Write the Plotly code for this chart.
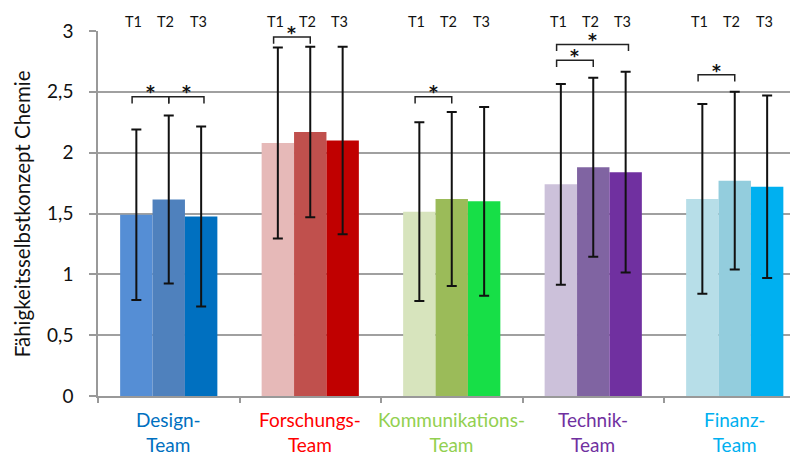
import plotly.graph_objects as go

# ---------------- data ----------------
teams = ["Design-<br>Team", "Forschungs-<br>Team", "Kommunikations-<br>Team",
         "Technik-<br>Team", "Finanz-<br>Team"]
team_label_colors = ["#0070C0", "#FF0000", "#92D050", "#7030A0", "#00B0F0"]
times = ["T1", "T2", "T3"]
y_title = "Fähigkeitsselbstkonzept Chemie"

mean_t1 = [1.49, 2.08, 1.515, 1.74, 1.62]
mean_t2 = [1.615, 2.17, 1.62, 1.88, 1.77]
mean_t3 = [1.475, 2.10, 1.60, 1.84, 1.72]

sd_t1 = [0.70, 0.785, 0.735, 0.825, 0.78]
sd_t2 = [0.69, 0.70, 0.715, 0.735, 0.73]
sd_t3 = [0.74, 0.77, 0.775, 0.825, 0.75]

colors_t1 = ["#558ED5", "#E6B9B8", "#D7E4BD", "#CCC1DA", "#B7DEE8"]
colors_t2 = ["#4F81BD", "#C0504D", "#9BBB59", "#8064A2", "#93CDDD"]
colors_t3 = ["#0070C0", "#C00000", "#17DF47", "#7030A0", "#00B0F0"]

# significance brackets: team index, from time index, to time index, height
sig_team = [0, 0, 1, 2, 3, 3, 4]
sig_from = [0, 1, 0, 0, 0, 0, 0]
sig_to = [1, 2, 1, 1, 1, 2, 1]
sig_level = [2.46, 2.46, 2.95, 2.46, 2.76, 2.89, 2.64]

y_ticks = [0, 0.5, 1, 1.5, 2, 2.5, 3]
y_max = 3

# ---------------- figure ----------------
FONT = "Lato, 'Open Sans', sans-serif"
bargap = 0.313
bar_w = (1 - bargap) / 3
x_pos = list(range(len(teams)))

fig = go.Figure()
for name, means, sds, cols in [("T1", mean_t1, sd_t1, colors_t1),
                               ("T2", mean_t2, sd_t2, colors_t2),
                               ("T3", mean_t3, sd_t3, colors_t3)]:
    fig.add_trace(go.Bar(
        x=x_pos, y=means, name=name,
        marker=dict(color=cols, line=dict(width=0)),
        error_y=dict(type="data", array=sds, visible=True,
                     color="#111111", thickness=2, width=5),
        showlegend=False,
    ))


def offset(k):
    return (k - 1) * bar_w


# time labels above each group
for i in x_pos:
    for k, t in enumerate(times):
        fig.add_annotation(x=i + offset(k) - 0.02, y=1.027, xref="x", yref="paper",
                           text=t, showarrow=False, yanchor="middle",
                           font=dict(family=FONT, size=14.5, color="#111111"))

# category labels
for i, (lab, col) in enumerate(zip(teams, team_label_colors)):
    fig.add_annotation(x=i, y=0, xref="x", yref="paper", text=lab, showarrow=False,
                       yanchor="top", yshift=-10,
                       font=dict(family=FONT, size=19, color=col))

# significance brackets
tick_h = 0.055
for tm, a, b, lvl in zip(sig_team, sig_from, sig_to, sig_level):
    x1 = tm + offset(a) - (0.03 if a == 0 else 0)
    x2 = tm + offset(b) + (0.02 if b == 2 else 0)
    fig.add_shape(type="path",
                  path=f"M {x1},{lvl - tick_h} L {x1},{lvl} L {x2},{lvl} L {x2},{lvl - tick_h}",
                  xref="x", yref="y", line=dict(color="#222222", width=1.5))
    fig.add_annotation(x=(x1 + x2) / 2, y=(lvl + 0.035) / y_max, xref="x", yref="paper",
                       text="<b>*</b>", showarrow=False, yanchor="middle",
                       font=dict(family="DejaVu Sans", size=17, color="#111111"))

# y-axis title
fig.add_annotation(x=-0.109, y=0.5, xref="paper", yref="paper", text=y_title,
                   textangle=-90, showarrow=False, xanchor="center", yanchor="middle",
                   font=dict(family=FONT, size=20.5, color="#111111"))

fig.update_layout(
    width=790, height=446,
    margin=dict(l=90, r=0, t=23, b=58),
    plot_bgcolor="white", paper_bgcolor="white",
    barmode="group", bargap=bargap, bargroupgap=0,
    separators=",.",
    font=dict(family=FONT, color="#111111"),
    xaxis=dict(range=[-0.5, 4.447], tickvals=[-0.5, 0.5, 1.5, 2.5, 3.5],
               ticktext=["", "", "", "", ""], ticks="outside", ticklen=5,
               tickcolor="#999999", tickwidth=1.5,
               showline=True, linecolor="#999999", linewidth=1.5,
               showgrid=False, zeroline=False),
    yaxis=dict(range=[0, y_max], tickvals=y_ticks, ticks="outside", ticklen=7,
               tickcolor="#999999", tickwidth=1.5,
               showline=True, linecolor="#999999", linewidth=1.5,
               showgrid=True, gridcolor="#a0a0a0", gridwidth=1.5,
               zeroline=False, ticklabelstandoff=12,
               tickfont=dict(family=FONT, size=19, color="#111111")),
)

fig.write_html("out.html")
